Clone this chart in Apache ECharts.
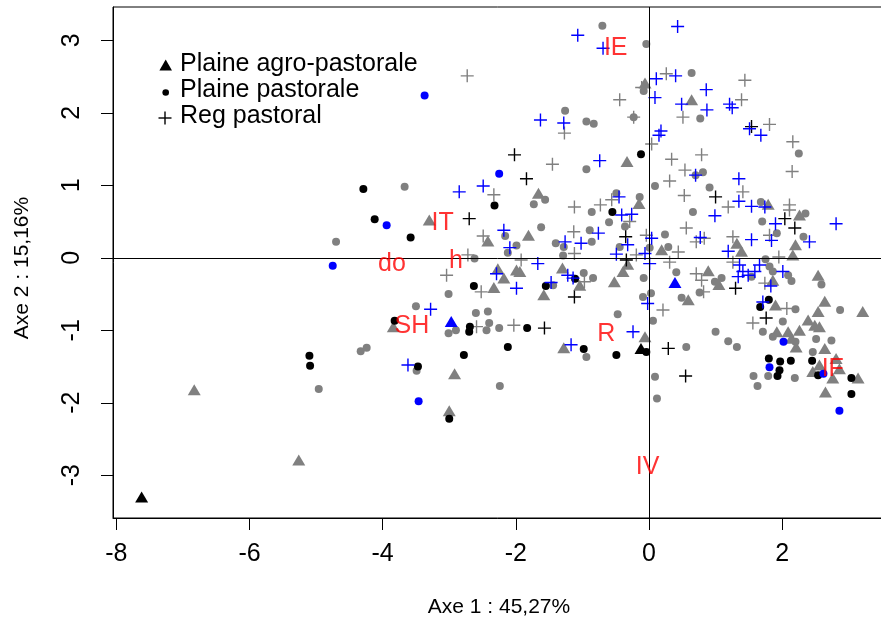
<!DOCTYPE html>
<html><head><meta charset="utf-8">
<script src="https://cdn.jsdelivr.net/npm/echarts@6/dist/echarts.min.js"></script>
<style>html,body{margin:0;padding:0;background:#fff}#c{width:881px;height:621px}</style>
</head><body><div id="c"></div>
<script>
// ---- data (PCA coordinates: [Axe 1, Axe 2]) ----
const triBlack = [[-7.62,-3.30],[-0.12,-1.25]];
const triBlue = [[-2.97,-0.88],[0.39,-0.34]];
const triGray = [[-6.83,-1.82],[-5.26,-2.79],[-0.06,2.41],[0.64,2.18],[-0.33,1.33],[-3.30,0.52],[-2.42,0.23],[-2.27,-0.15],[-2.18,-0.28],[-1.99,-0.17],[-2.33,-0.41],[-3.84,-0.95],[-2.92,-1.60],[-3.00,-2.11],[-1.66,0.89],[-0.15,0.75],[-1.81,0.31],[0.19,0.11],[-1.94,-0.19],[-1.30,-0.14],[-1.04,-0.38],[-1.58,-0.51],[-0.39,-0.19],[-0.32,-0.09],[-0.52,-0.33],[0.59,-0.58],[-0.06,-1.09],[-1.28,-1.24],[1.79,0.74],[2.26,0.59],[2.20,0.18],[2.16,0.04],[1.32,0.20],[1.39,0.09],[0.89,-0.18],[1.05,-0.37],[1.86,-0.31],[2.54,-0.24],[1.90,-0.65],[2.64,-0.60],[2.54,-0.74],[3.21,-0.74],[2.39,-0.86],[2.49,-0.93],[2.56,-0.95],[1.92,-1.02],[2.09,-1.02],[2.26,-1.00],[2.14,-1.11],[2.21,-1.23],[2.64,-1.25],[2.46,-1.57],[2.56,-1.48],[2.81,-1.39],[2.86,-1.53],[2.76,-1.66],[3.14,-1.66],[2.65,-1.85]];
const cirBlack = [[-0.12,1.43],[-4.29,0.95],[-2.32,0.72],[-4.12,0.53],[-3.58,0.28],[-2.63,-0.39],[-3.82,-0.87],[-2.69,-0.95],[-2.70,-1.02],[-2.12,-1.23],[-2.78,-1.34],[-5.10,-1.35],[-5.09,-1.49],[-3.47,-1.50],[-3.00,-2.22],[-0.55,0.63],[-1.11,-0.29],[-1.55,-0.39],[-1.83,-0.97],[-0.98,-1.26],[-0.49,-1.34],[-0.04,-1.30],[1.80,-0.58],[1.67,-0.68],[1.80,-1.39],[1.97,-1.43],[1.96,-1.55],[1.93,-1.63],[2.13,-1.42],[2.45,-1.42],[2.54,-1.62],[3.04,-1.66],[3.04,-1.88]];
const cirBlue = [[-3.37,2.24],[-2.25,1.16],[-3.94,0.45],[-4.75,-0.11],[-3.46,-1.98],[2.02,-1.16],[1.81,-1.51],[2.62,-1.60],[2.86,-2.11]];
const cirGray = [[-4.70,0.22],[-4.96,-1.81],[-0.70,3.20],[-0.04,2.95],[-0.08,2.30],[0.64,2.55],[0.77,1.92],[-1.26,2.03],[-0.94,1.88],[-0.83,1.85],[-0.23,1.94],[-0.94,1.22],[0.70,1.14],[2.25,1.44],[0.81,1.18],[-3.67,0.98],[-2.16,0.30],[-2.12,0.07],[-1.99,0.17],[-2.62,-0.01],[-3.01,-0.50],[-3.50,-0.67],[-2.90,-1.00],[-3.01,-1.04],[-2.60,-0.76],[-2.42,-0.74],[-2.40,-0.90],[-2.44,-1.00],[-2.25,-0.97],[-4.33,-1.29],[-4.24,-1.24],[-3.49,-1.56],[-2.24,-1.77],[-1.73,0.74],[-1.56,0.80],[-0.86,0.63],[-0.49,0.89],[-0.14,0.84],[0.09,0.99],[-0.60,0.49],[-0.36,0.43],[-1.62,0.42],[-0.89,0.38],[-1.40,0.20],[-1.28,0.15],[-1.29,0.03],[-0.86,0.22],[-0.44,0.15],[0.01,0.14],[0.24,0.32],[0.66,0.63],[0.29,0.15],[-0.98,-0.21],[-0.84,-0.28],[-1.44,-0.38],[-0.08,-0.28],[0.41,-0.20],[0.76,-0.48],[0.03,-0.49],[-0.09,-0.54],[0.49,-0.55],[-0.47,-0.78],[0.06,-0.87],[0.56,-1.23],[-0.94,-1.37],[0.09,-1.64],[0.12,-1.94],[0.91,0.97],[1.68,0.77],[2.35,0.61],[1.70,0.50],[1.92,0.34],[2.32,0.29],[1.75,-0.02],[1.81,-0.12],[1.86,-0.19],[2.09,-0.24],[2.14,-0.32],[0.99,-0.33],[1.09,-0.28],[1.54,-0.26],[2.59,-0.37],[2.20,-0.71],[2.87,-0.72],[2.01,-0.88],[1.00,-1.02],[1.19,-1.15],[1.32,-1.23],[1.71,-1.02],[1.86,-1.09],[2.20,-1.16],[2.51,-1.12],[2.74,-1.14],[2.46,-1.30],[1.57,-1.63],[1.79,-1.63],[1.63,-1.77],[2.19,-1.66]];
const plusBlack = [[-2.02,1.42],[-1.84,1.09],[-2.70,0.54],[-0.35,0.29],[-0.34,-0.03],[-1.12,-0.54],[-1.57,-0.97],[0.29,-1.25],[0.55,-1.63],[1.00,0.84],[1.54,1.81],[2.04,0.54],[2.19,0.41],[1.30,-0.42],[1.76,-0.83]];
const plusBlue = [[-1.07,3.07],[-0.69,2.89],[0.43,3.19],[0.11,2.47],[0.40,2.51],[0.09,2.21],[0.49,2.12],[0.87,2.04],[0.86,2.32],[-1.63,1.90],[-1.28,1.86],[0.18,1.75],[0.15,1.69],[-0.74,1.34],[0.70,1.14],[1.21,2.12],[1.25,2.07],[1.51,1.78],[1.68,1.69],[1.35,1.09],[-2.85,0.91],[-2.49,0.99],[-2.18,0.38],[-2.09,0.14],[-2.29,-0.22],[-1.99,-0.42],[-3.28,-0.71],[-3.62,-1.48],[-0.45,0.84],[-0.41,0.59],[-0.26,0.60],[-0.76,0.34],[-1.02,0.20],[-1.26,0.22],[-0.32,0.18],[-0.49,0.05],[-0.06,0.06],[0.01,-0.08],[0.04,0.27],[0.77,0.28],[-1.67,-0.08],[-1.22,-0.24],[-1.14,-0.28],[-1.47,-0.34],[-0.02,-0.63],[-0.24,-1.02],[-1.17,-1.20],[1.35,0.78],[1.54,0.71],[1.74,0.70],[2.81,0.47],[0.99,0.58],[1.90,0.47],[1.84,0.24],[2.41,0.22],[1.54,0.25],[1.19,0.09],[1.36,-0.10],[1.66,-0.10],[1.41,-0.19],[1.59,-0.19],[1.49,-0.24],[1.34,-0.26],[2.01,-0.19],[1.83,-0.39],[1.71,-0.61]];
const plusGray = [[-2.73,2.51],[-0.11,2.35],[0.26,2.54],[-0.44,2.18],[0.51,1.94],[-1.27,1.72],[-0.23,1.94],[0.04,1.57],[-1.45,1.29],[0.34,1.36],[0.54,1.21],[0.79,1.42],[1.44,2.45],[1.39,2.18],[1.81,1.84],[2.16,1.60],[2.15,1.19],[-2.33,0.87],[-2.49,0.30],[-2.72,0.04],[-3.04,-0.24],[-2.52,-0.47],[-2.59,-0.95],[-2.03,-0.93],[-1.12,0.70],[-0.73,0.73],[-0.56,0.80],[0.31,1.06],[0.53,0.86],[-0.29,0.50],[-1.13,0.36],[-1.12,0.06],[-0.19,0.04],[-0.04,0.31],[0.56,0.41],[0.44,0.08],[0.31,-0.06],[0.71,0.22],[-1.92,-0.03],[-0.97,-0.33],[0.71,-0.22],[0.79,-0.31],[0.21,-0.72],[1.19,0.70],[1.41,0.91],[2.11,0.73],[2.11,0.66],[1.81,0.31],[1.26,0.29],[0.83,0.27],[1.95,0.01],[1.26,-0.06],[0.82,-0.47],[1.74,-0.35],[2.07,-0.70],[1.56,-0.90]];
// variable labels (red)
const varNames = ['IE','IT','do','h','SH','R','IV','IF'];
const varX = [-0.50,-3.10,-3.86,-2.90,-3.56,-0.64,-0.02,2.76];
const varY = [2.89,0.48,-0.09,-0.05,-0.94,-1.05,-2.89,-1.54];
// axes
const xTicks = [-8,-6,-4,-2,0,2];
const yTicks = [-3,-2,-1,0,1,2,3];
const legendNames = ['Plaine agro-pastorale','Plaine pastorale','Reg pastoral'];
const xTitle = 'Axe 1 : 45,27%';
const yTitle = 'Axe 2 : 15,16%';

// ---- chart ----
const FONT = '"Liberation Sans", Arial, Helvetica, sans-serif';
const GRAY = '#808080', BLACK = '#000000', BLUE = '#0000ff', RED = '#ff0000';
const PLUS = 'path://M0,6.5L13,6.5M6.5,0L6.5,13';

function ser(data, kind, color, z) {
  const s = {type:'scatter', data: data, z: z, silent: true, animation: false};
  if (kind === 'tri') { s.symbol = 'triangle'; s.symbolSize = [13, 11]; s.itemStyle = {color: color, opacity: 1}; }
  else if (kind === 'cir') { s.symbol = 'circle'; s.symbolSize = 8; s.itemStyle = {color: color, opacity: 1}; }
  else { s.symbol = PLUS; s.symbolSize = 13; s.itemStyle = {color: color, borderColor: color, borderWidth: 1.4, opacity: 1}; }
  return s;
}

const series = [
  ser(cirGray,'cir',GRAY,2), ser(triGray,'tri',GRAY,2), ser(plusGray,'plus',GRAY,2),
  ser(cirBlack,'cir',BLACK,3), ser(triBlack,'tri',BLACK,3), ser(plusBlack,'plus',BLACK,3),
  ser(cirBlue,'cir',BLUE,4), ser(triBlue,'tri',BLUE,4), ser(plusBlue,'plus',BLUE,4),
  {type:'scatter', z: 6, silent: true, animation:false, symbolSize: 1,
   itemStyle:{color:'rgba(0,0,0,0)'},
   data: varNames.map((n,i)=>({name:n, value:[varX[i], varY[i]]})),
   label:{show:true, position:'inside', formatter: p => p.name, color: RED, fontSize: 25, fontFamily: FONT}}
];
series[0].markLine = {silent:true, animation:false, symbol:['none','none'], label:{show:false},
  lineStyle:{color:'#000', width:1, type:'solid'}, data:[{xAxis:0},{yAxis:0}]};

const chart = echarts.init(document.getElementById('c'), null, {renderer:'canvas'});
chart.setOption({
  animation: false,
  backgroundColor: '#fff',
  grid: {left: 113, top: 7, width: 791, height: 511, outerBoundsMode: 'none', containLabel: false,
    show: true, borderColor: '#000', borderWidth: 1, backgroundColor: 'transparent'},
  xAxis: {type:'value', min: -8.05, max: 3.83, position:'bottom',
    axisLine:{show:true, onZero:false, lineStyle:{color:'#000', width:1}},
    axisTick:{show:true, customValues: xTicks, length: 12, inside:false, lineStyle:{color:'#000', width:1}},
    axisLabel:{show:true, customValues: xTicks, fontSize: 25, color:'#000', fontFamily: FONT, margin: 24},
    splitLine:{show:false}},
  yAxis: {type:'value', min: -3.59, max: 3.46, position:'left',
    axisLine:{show:true, onZero:false, lineStyle:{color:'#000', width:1}},
    axisTick:{show:true, customValues: yTicks, length: 12, inside:false, lineStyle:{color:'#000', width:1}},
    axisLabel:{show:true, customValues: yTicks, rotate: 90, fontSize: 25, color:'#000', fontFamily: FONT, margin: 28},
    splitLine:{show:false}},
  graphic: [
    {type:'text', x: 499, y: 607, style:{text: xTitle, align:'center', verticalAlign:'middle', fontSize: 21, fontFamily: FONT, fill:'#000'}},
    {type:'text', rotation: Math.PI/2, x: 22, y: 268, style:{text: yTitle, align:'center', verticalAlign:'middle', fontSize: 21, fontFamily: FONT, fill:'#000'}},
    {type:'polygon', shape:{points:[[165.7,59.5],[172,70.5],[159.4,70.5]]}, style:{fill:'#000'}},
    {type:'circle', shape:{cx:165.7, cy:92.5, r:3.3}, style:{fill:'#000'}},
    {type:'line', shape:{x1:158.5, y1:118, x2:171.5, y2:118}, style:{stroke:'#000', lineWidth:1.4}},
    {type:'line', shape:{x1:165, y1:111.5, x2:165, y2:124.5}, style:{stroke:'#000', lineWidth:1.4}},
    {type:'text', x: 180, y: 64.5, style:{text: legendNames[0], align:'left', verticalAlign:'middle', fontSize: 25, fontFamily: FONT, fill:'#000'}},
    {type:'text', x: 180, y: 90.5, style:{text: legendNames[1], align:'left', verticalAlign:'middle', fontSize: 25, fontFamily: FONT, fill:'#000'}},
    {type:'text', x: 180, y: 116, style:{text: legendNames[2], align:'left', verticalAlign:'middle', fontSize: 25, fontFamily: FONT, fill:'#000'}}
  ],
  series: series
});
</script></body></html>
